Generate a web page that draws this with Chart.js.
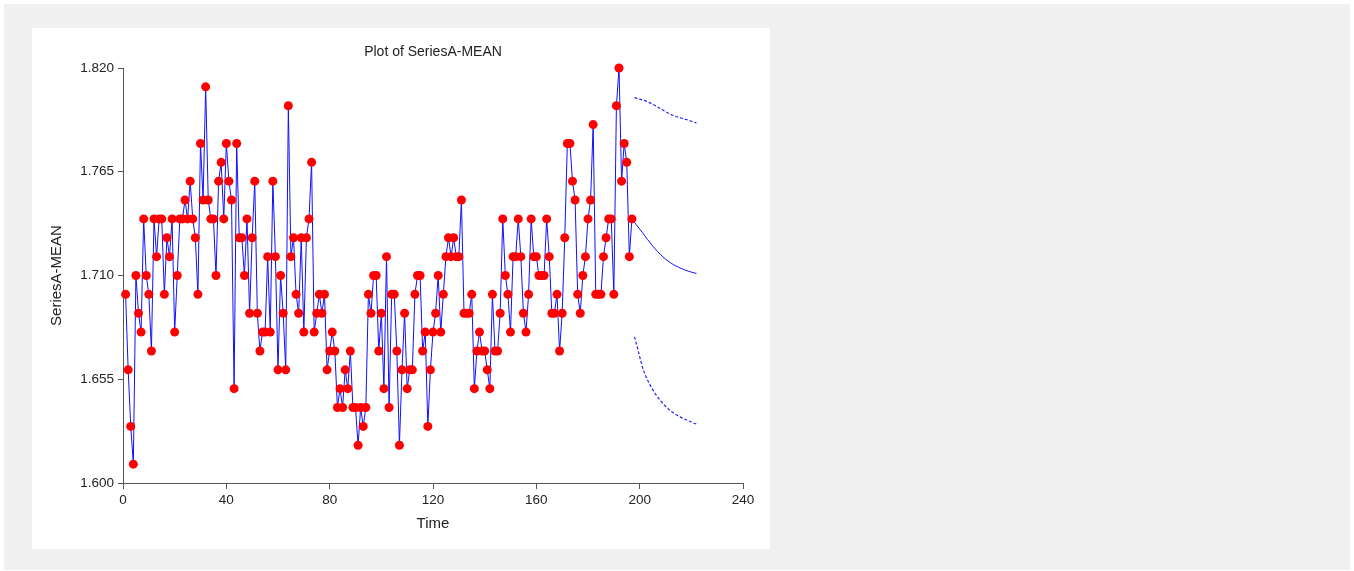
<!DOCTYPE html>
<html>
<head>
<meta charset="utf-8">
<title>Plot of SeriesA-MEAN</title>
<script src="https://cdn.jsdelivr.net/npm/chart.js@4.4.1/dist/chart.umd.min.js"></script>
<style>
    html, body { margin: 0; padding: 0; background: #ffffff; }
    #page { position: absolute; left: 4px; top: 4px; width: 1346px; height: 566px; background: #f0f0f0; }
    #panel { position: absolute; left: 32px; top: 28px; width: 738px; height: 521px; background: #ffffff; }
</style>
</head>
<body>
<div id="page"></div>
<div id="panel"><canvas id="plot"></canvas></div>
<script>
"use strict";

// observed series, time = 1, 2, 3, ...
const seriesA = [
    1.70, 1.66, 1.63, 1.61, 1.71, 1.69, 1.68, 1.74, 1.71, 1.70,
    1.67, 1.74, 1.72, 1.74, 1.74, 1.70, 1.73, 1.72, 1.74, 1.68,
    1.71, 1.74, 1.74, 1.75, 1.74, 1.76, 1.74, 1.73, 1.70, 1.78,
    1.75, 1.81, 1.75, 1.74, 1.74, 1.71, 1.76, 1.77, 1.74, 1.78,
    1.76, 1.75, 1.65, 1.78, 1.73, 1.73, 1.71, 1.74, 1.69, 1.73,
    1.76, 1.69, 1.67, 1.68, 1.68, 1.72, 1.68, 1.76, 1.72, 1.66,
    1.71, 1.69, 1.66, 1.80, 1.72, 1.73, 1.70, 1.69, 1.73, 1.68,
    1.73, 1.74, 1.77, 1.68, 1.69, 1.70, 1.69, 1.70, 1.66, 1.67,
    1.68, 1.67, 1.64, 1.65, 1.64, 1.66, 1.65, 1.67, 1.64, 1.64,
    1.62, 1.64, 1.63, 1.64, 1.70, 1.69, 1.71, 1.71, 1.67, 1.69,
    1.65, 1.72, 1.64, 1.70, 1.70, 1.67, 1.62, 1.66, 1.69, 1.65,
    1.66, 1.66, 1.70, 1.71, 1.71, 1.67, 1.68, 1.63, 1.66, 1.68,
    1.69, 1.71, 1.68, 1.70, 1.72, 1.73, 1.72, 1.73, 1.72, 1.72,
    1.75, 1.69, 1.69, 1.69, 1.70, 1.65, 1.67, 1.68, 1.67, 1.67,
    1.66, 1.65, 1.70, 1.67, 1.67, 1.69, 1.74, 1.71, 1.70, 1.68,
    1.72, 1.72, 1.74, 1.72, 1.69, 1.68, 1.70, 1.74, 1.72, 1.72,
    1.71, 1.71, 1.71, 1.74, 1.72, 1.69, 1.69, 1.70, 1.67, 1.69,
    1.73, 1.78, 1.78, 1.76, 1.75, 1.70, 1.69, 1.71, 1.72, 1.74,
    1.75, 1.79, 1.70, 1.70, 1.70, 1.72, 1.73, 1.74, 1.74, 1.70,
    1.80, 1.82, 1.76, 1.78, 1.77, 1.72, 1.74
];

// forecasts and limits for time 198 .. 222
const forecastStart = 198;
const forecast = [
    1.7382, 1.7364, 1.7346, 1.7329, 1.7310, 1.7292, 1.7274, 1.7257, 1.7241, 1.7226,
    1.7212, 1.7199, 1.7187, 1.7177, 1.7167, 1.7158, 1.7151, 1.7144, 1.7138, 1.7132,
    1.7127, 1.7122, 1.7118, 1.7114, 1.7111
];
const upperLimit = [
    1.8043, 1.8039, 1.8035, 1.8031, 1.8027, 1.8022, 1.8015, 1.8008, 1.8001, 1.7993,
    1.7985, 1.7977, 1.7969, 1.7961, 1.7954, 1.7948, 1.7943, 1.7939, 1.7935, 1.7931,
    1.7927, 1.7923, 1.7918, 1.7913, 1.7909
];
const lowerLimit = [
    1.6775, 1.6725, 1.6670, 1.6617, 1.6578, 1.6547, 1.6520, 1.6496, 1.6474, 1.6455,
    1.6437, 1.6421, 1.6407, 1.6394, 1.6382, 1.6372, 1.6363, 1.6355, 1.6348, 1.6341,
    1.6335, 1.6329, 1.6323, 1.6317, 1.6312
];

const xTicks = [0, 40, 80, 120, 160, 200, 240];
const yTicks = [1.600, 1.655, 1.710, 1.765, 1.820];

const FONT = "'Liberation Sans', Arial, sans-serif";
const TEXT = '#222222';
const AXIS = '#555555';

function toPoints(values, start) {
    return values.map((v, i) => ({ x: start + i, y: v }));
}

const observed = toPoints(seriesA, 1);
const lastObs = observed[observed.length - 1];
// forecast line continues from the last observation
const forecastLine = [lastObs].concat(toPoints(forecast, forecastStart));

const ctx = document.getElementById('plot').getContext('2d');
new Chart(ctx, {
    type: 'line',
    data: {
        datasets: [
            {
                data: observed,
                borderColor: '#1010ff',
                borderWidth: 1,
                pointRadius: 4.5,
                pointBackgroundColor: '#ff0000',
                pointBorderWidth: 0,
                tension: 0,
                clip: false,
                order: 1
            },
            {
                data: forecastLine,
                borderColor: '#1010ff',
                borderWidth: 1,
                pointRadius: 0,
                tension: 0,
                clip: false,
                order: 2
            },
            {
                data: toPoints(upperLimit, forecastStart),
                borderColor: '#2020ff',
                borderWidth: 1.2,
                borderDash: [3, 2],
                pointRadius: 0,
                tension: 0,
                clip: false,
                order: 3
            },
            {
                data: toPoints(lowerLimit, forecastStart),
                borderColor: '#2020ff',
                borderWidth: 1.2,
                borderDash: [3, 2],
                pointRadius: 0,
                tension: 0,
                clip: false,
                order: 3
            }
        ]
    },
    options: {
        responsive: true,
        maintainAspectRatio: false,
        animation: false,
        events: [],
        layout: { padding: { left: 0, right: 27, top: 0, bottom: 0 } },
        plugins: {
            legend: { display: false },
            tooltip: { enabled: false },
            title: {
                display: true,
                text: 'Plot of SeriesA-MEAN',
                fullSize: false,
                color: TEXT,
                font: { family: FONT, size: 14, weight: 'normal' },
                padding: { top: 15.5, bottom: 7.7 }
            }
        },
        scales: {
            x: {
                type: 'linear',
                min: 0,
                max: 240,
                afterBuildTicks: s => { s.ticks = xTicks.map(v => ({ value: v })); },
                afterFit: s => { s.height = 66; },
                grid: { display: true, drawOnChartArea: false, drawTicks: true, tickLength: 6, color: AXIS },
                border: { display: true, color: AXIS, width: 1 },
                ticks: { color: TEXT, font: { family: FONT, size: 13.5 }, padding: 3, maxRotation: 0 },
                title: {
                    display: true,
                    text: 'Time',
                    color: TEXT,
                    font: { family: FONT, size: 15 },
                    padding: { top: 0, bottom: 16 }
                }
            },
            y: {
                type: 'linear',
                min: 1.6,
                max: 1.82,
                afterBuildTicks: s => { s.ticks = yTicks.map(v => ({ value: v })); },
                afterFit: s => { s.width = 91; },
                grid: { display: true, drawOnChartArea: false, drawTicks: true, tickLength: 5, color: AXIS },
                border: { display: true, color: AXIS, width: 1 },
                ticks: {
                    color: TEXT,
                    font: { family: FONT, size: 13.5 },
                    padding: 4,
                    callback: v => Number(v).toFixed(3)
                },
                title: {
                    display: true,
                    text: 'SeriesA-MEAN',
                    color: TEXT,
                    font: { family: FONT, size: 15 },
                    padding: { top: 16, bottom: 0 }
                }
            }
        }
    }
});
</script>
</body>
</html>
